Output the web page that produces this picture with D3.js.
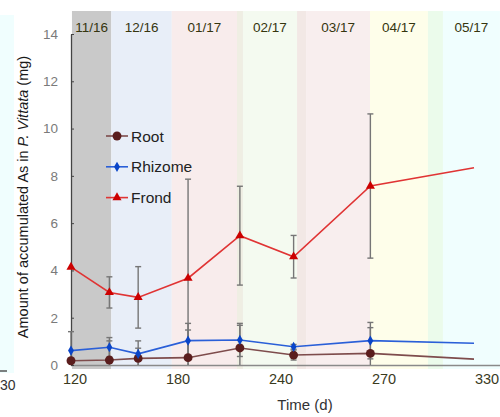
<!DOCTYPE html>
<html>
<head>
<meta charset="utf-8">
<script src="https://cdn.jsdelivr.net/npm/d3@7"></script>
<style>
  html, body { margin: 0; padding: 0; background: #ffffff; }
  svg { display: block; font-family: "Liberation Sans", Arial, sans-serif; }
</style>
</head>
<body>
<svg id="chart" width="500" height="417"></svg>
<script>
// Sampling days and mean accumulated As (mg) per plant part
const days = [120, 140, 155, 181, 208, 236, 276, 330];
const rootMean = [0.18, 0.21, 0.28, 0.31, 0.72, 0.42, 0.49, 0.25];
const rootErr = [0, 0.81, 0.43, 1.17, 0.96, 0.21, 1.09, 0];
const rhizomeMean = [0.61, 0.75, 0.47, 1.03, 1.06, 0.77, 1.03, 0.92];
const rhizomeErr = [0.8, 0.41, 0.55, 0.73, 0.7, 0.1, 0.77, 0];
const frondMean = [4.14, 3.07, 2.86, 3.67, 5.47, 4.58, 7.57, 8.34];
const frondErr = [0, 0.66, 1.3, 4.19, 2.09, 0.9, 3.05, 0];

// Monthly growth periods (in days) shown as background bands
const bandStart = [120.5, 141, 172.5, 206.5, 209.6, 237.8, 242.5, 275.8, 306, 313.8];
const bandEnd = [141, 172.5, 206.5, 209.6, 237.8, 242.5, 275.8, 306, 313.8, 343.5];
const bandLabels = ["11/16", "12/16", "01/17", "", "02/17", "", "03/17", "04/17", "", "05/17"];
const bandColors = ["#c9c9c9", "#e8eef8", "#f8ecec", "#efeee3", "#f4faf0",
                    "#f2e8e5", "#f8eeee", "#fefeea", "#ebfbeb", "#f0fefe"];

const xTickLabels = ["120", "180", "240", "270", "330"];
const yTicks = [0, 2, 4, 6, 8, 10, 12, 14];

const svg = d3.select("#chart");

const x = d3.scaleLinear().domain([120, 330]).range([71, 474]);
const y = d3.scaleLinear().domain([0, 14]).range([365, 34]);
const xLabelScale = d3.scalePoint().domain(xTickLabels).range([75, 487]);

// leftover strip of a neighbouring panel
svg.append("rect").attr("x", 0).attr("y", 15).attr("width", 14).attr("height", 358)
  .attr("fill", "#f0fefe");
svg.append("line").attr("x1", 0).attr("x2", 7).attr("y1", 371).attr("y2", 371)
  .attr("stroke", "#555").attr("stroke-width", 1.5);
svg.append("text").attr("x", 0).attr("y", 390)
  .attr("font-size", 14).attr("fill", "#333").text("30");

// background month bands
const bands = bandStart.map((s, i) => ({ s, e: bandEnd[i], label: bandLabels[i], color: bandColors[i] }));
svg.append("g").selectAll("rect").data(bands).join("rect")
  .attr("x", d => x(d.s))
  .attr("width", d => x(d.e) - x(d.s))
  .attr("y", 11)
  .attr("height", 369 - 11)
  .attr("fill", d => d.color);

svg.append("g").selectAll("text").data(bands.filter(d => d.label)).join("text")
  .attr("x", d => (x(d.s) + x(d.e)) / 2)
  .attr("y", 32)
  .attr("text-anchor", "middle")
  .attr("font-size", 13.5)
  .attr("fill", "#35350f")
  .text(d => d.label);

// x baseline
svg.append("line").attr("x1", 71).attr("x2", 500).attr("y1", 365.5).attr("y2", 365.5)
  .attr("stroke", "#8a8a8a").attr("stroke-width", 1.5);

// y axis
const yAxis = svg.append("g").attr("transform", "translate(71,0)")
  .call(d3.axisLeft(y).tickValues(yTicks).tickSizeInner(-3).tickSizeOuter(0).tickPadding(13));
yAxis.select(".domain").attr("stroke", "#444").attr("stroke-width", 1.3);
yAxis.selectAll(".tick line").attr("stroke", "#444");
yAxis.selectAll(".tick text").attr("font-size", 13.5).attr("fill", "#7a7a7a")
  .attr("font-family", "Liberation Sans, Arial, sans-serif");

// x tick labels
svg.append("g").selectAll("text").data(xTickLabels).join("text")
  .attr("x", d => xLabelScale(d))
  .attr("y", 384)
  .attr("text-anchor", "middle")
  .attr("font-size", 14.5)
  .attr("fill", "#3a3a1e")
  .text(d => d);

// axis titles
svg.append("text").attr("x", 305).attr("y", 410).attr("text-anchor", "middle")
  .attr("font-size", 15).attr("fill", "#333").text("Time (d)");

const yt = svg.append("text")
  .attr("transform", "translate(28,197) rotate(-90)")
  .attr("text-anchor", "middle").attr("font-size", 14.5).attr("fill", "#1a1a1a");
yt.append("tspan").text("Amount of accumulated As in ");
yt.append("tspan").attr("font-style", "italic").text("P. Vittata");
yt.append("tspan").text(" (mg)");

// series
const series = [
  { name: "Root", mean: rootMean, err: rootErr, line: "#7e4c4c", mark: "#5a1d1d", symbol: "circle" },
  { name: "Rhizome", mean: rhizomeMean, err: rhizomeErr, line: "#2a5fd8", mark: "#0a45c8", symbol: "diamond" },
  { name: "Frond", mean: frondMean, err: frondErr, line: "#e03434", mark: "#cc0000", symbol: "triangle" }
];

// error bars
const errG = svg.append("g").attr("stroke", "#767676").attr("stroke-width", 1.4);
series.forEach(s => {
  days.forEach((d, i) => {
    const e = s.err[i];
    if (!e) return;
    const hi = s.mean[i] + e;
    const lo = Math.max(0, s.mean[i] - e);
    const cx = x(d);
    errG.append("line").attr("x1", cx).attr("x2", cx).attr("y1", y(hi)).attr("y2", y(lo));
    errG.append("line").attr("x1", cx - 3).attr("x2", cx + 3).attr("y1", y(hi)).attr("y2", y(hi));
    if (s.mean[i] - e > 0) {
      errG.append("line").attr("x1", cx - 3).attr("x2", cx + 3).attr("y1", y(lo)).attr("y2", y(lo));
    }
  });
});

const line = d3.line().x(d => x(d[0])).y(d => y(d[1]));
const symbolPath = {
  circle: d3.symbol().type(d3.symbolCircle).size(62)(),
  diamond: d3.symbol().type(d3.symbolDiamond).size(30)(),
  triangle: d3.symbol().type(d3.symbolTriangle).size(36)()
};

series.forEach(s => {
  const pts = days.map((d, i) => [d, s.mean[i]]);
  svg.append("path").datum(pts).attr("d", line)
    .attr("fill", "none").attr("stroke", s.line).attr("stroke-width", 1.6);
  svg.append("g").selectAll("path").data(pts.slice(0, -1)).join("path")
    .attr("transform", d => `translate(${x(d[0])},${y(d[1])})`)
    .attr("d", symbolPath[s.symbol])
    .attr("fill", s.mark);
});

// legend
const legend = svg.append("g").attr("transform", "translate(106,136)");
series.forEach((s, i) => {
  const g = legend.append("g").attr("transform", `translate(0,${i * 30.8})`);
  g.append("line").attr("x1", 0).attr("x2", 22).attr("y1", 0).attr("y2", 0)
    .attr("stroke", s.line).attr("stroke-width", 1.6);
  g.append("path").attr("transform", "translate(11,0)").attr("d", symbolPath[s.symbol]).attr("fill", s.mark);
  g.append("text").attr("x", 25).attr("y", 5.5).attr("font-size", 15.5).attr("fill", "#222").text(s.name);
});
</script>
</body>
</html>
